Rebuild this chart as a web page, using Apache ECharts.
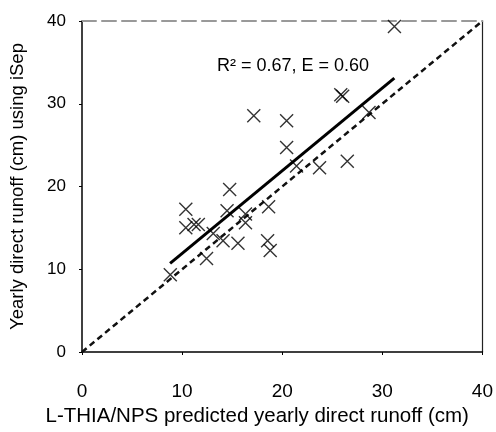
<!DOCTYPE html>
<html>
<head>
<meta charset="utf-8">
<script src="https://cdn.jsdelivr.net/npm/echarts@6/dist/echarts.min.js"></script>
<style>html,body{margin:0;padding:0;background:#fff}#c{width:496px;height:432px}</style>
</head>
<body>
<div id="c"></div>
<script>
// L-THIA/NPS predicted (x) vs iSep (y), yearly direct runoff (cm)
const predicted = [14.75, 10.37, 14.49, 18.64, 16.33, 16.33, 10.37, 11.19, 11.62, 13.11, 14.09, 15.58, 18.54, 18.80, 12.44, 8.82, 25.85, 26.04, 17.16, 20.44, 20.44, 21.43, 23.73, 26.5, 31.21, 28.67];
const observed  = [19.65, 17.26, 17.06, 17.56, 16.67, 15.61, 15.02, 15.41, 15.41, 14.32, 13.45, 13.14, 13.45, 12.27, 11.29, 9.33, 31.09, 30.9, 28.55, 27.96, 24.71, 22.47, 22.27, 23.06, 39.33, 28.94];
const fitX = [8.8, 31.2];
const fitY = [10.7, 33.1];
const oneToOne = [0, 40];
const xTicks = [0, 10, 20, 30, 40];
const yTicks = [0, 10, 20, 30, 40];
const annotation = 'R\u00B2 = 0.67, E = 0.60';
const xTitle = 'L-THIA/NPS predicted yearly direct runoff (cm)';
const yTitle = 'Yearly direct runoff (cm) using iSep';

const chart = echarts.init(document.getElementById('c'), null, {renderer: 'canvas'});
const font = 'Liberation Sans, Arial, sans-serif';
chart.setOption({
  animation: false,
  backgroundColor: '#fff',
  grid: {left: 79, right: 12, top: 21, bottom: 71},
  xAxis: [{
    type: 'value', min: xTicks[0], max: xTicks[xTicks.length - 1], interval: 10,
    splitLine: {show: false},
    axisLine: {onZero: false, lineStyle: {color: '#000', width: 1.5}},
    axisTick: {show: true, length: 3, lineStyle: {color: '#000'}},
    axisLabel: {color: '#000', fontSize: 19, fontFamily: font, margin: 30},
    name: xTitle, nameLocation: 'middle', nameGap: 54,
    nameTextStyle: {color: '#000', fontSize: 20.5, fontFamily: font, padding: [0, 50, 0, 0]}
  }, {
    type: 'value', position: 'top', min: 0, max: 40,
    splitLine: {show: false},
    axisLine: {show: true, onZero: false, lineStyle: {color: '#999', width: 2, type: [14, 6]}},
    axisTick: {show: false}, axisLabel: {show: false}
  }],
  yAxis: [{
    type: 'value', min: yTicks[0], max: yTicks[yTicks.length - 1], interval: 10,
    splitLine: {show: false},
    axisLine: {show: true, onZero: false, lineStyle: {color: '#000', width: 1.5}},
    axisTick: {show: true, length: 3, lineStyle: {color: '#000'}},
    axisLabel: {color: '#000', fontSize: 17, fontFamily: font, margin: 16},
    name: yTitle, nameLocation: 'middle', nameGap: 55,
    nameTextStyle: {color: '#000', fontSize: 18.5, fontFamily: font}
  }, {
    type: 'value', position: 'right', min: 0, max: 40,
    splitLine: {show: false},
    axisLine: {show: true, onZero: false, lineStyle: {color: '#222', width: 1.2}},
    axisTick: {show: false}, axisLabel: {show: false}
  }],
  graphic: [{
    type: 'text', left: 217, top: 57,
    style: {text: annotation, fill: '#000', font: '18px ' + font}
  }],
  series: [{
    type: 'line', data: oneToOne.map(v => [v, v]), symbol: 'none',
    lineStyle: {color: '#111', width: 2.5, type: [6, 4]}, z: 2
  }, {
    type: 'line', data: fitX.map((v, i) => [v, fitY[i]]), symbol: 'none',
    lineStyle: {color: '#000', width: 3}, z: 3
  }, {
    type: 'scatter', data: predicted.map((v, i) => [v, observed[i]]),
    symbol: 'path://M0,0L10,10M10,0L0,10', symbolSize: 13,
    itemStyle: {color: 'rgba(0,0,0,0)', borderColor: '#000', borderWidth: 1.4},
    z: 4
  }]
});
</script>
</body>
</html>
